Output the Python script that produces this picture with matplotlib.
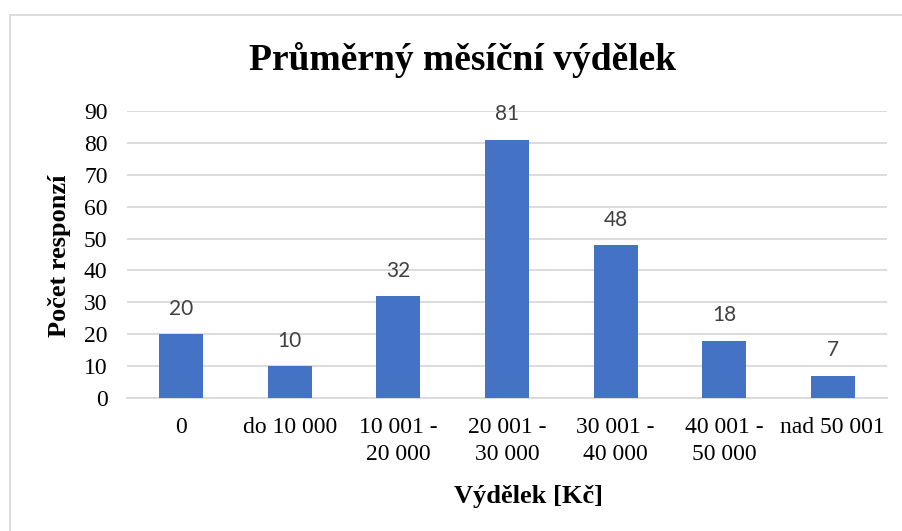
import matplotlib.pyplot as plt
from matplotlib.patches import Rectangle

# Data
categories = ['0', 'do 10 000', '10 001 -\n20 000', '20 001 -\n30 000',
              '30 001 -\n40 000', '40 001 -\n50 000', 'nad 50 001']
counts = [20, 10, 32, 81, 48, 18, 7]
yticks = [0, 10, 20, 30, 40, 50, 60, 70, 80, 90]

W, H = 902, 531
fig = plt.figure(figsize=(W / 100, H / 100), dpi=100)
ax = fig.add_axes([127 / W, 1 - 398 / H, 760 / W, (398 - 111) / H])

serif = 'Liberation Serif'
ax.bar(range(len(categories)), counts, width=0.405, color='#4472C4', zorder=3)
for i, v in enumerate(counts):
    ax.annotate(str(v), (i, v), xytext=(0, 11), textcoords='offset points',
                ha='center', va='bottom', fontsize=15, color='#404040',
                family='Lato')

ax.set_xlim(-0.5, len(categories) - 0.5)
ax.set_ylim(0, 90)
ax.set_yticks(yticks)
ax.yaxis.grid(True, color='#d9d9d9', linewidth=1.3, zorder=0)
ax.set_axisbelow(True)
for s in ['top', 'right', 'left']:
    ax.spines[s].set_visible(False)
ax.spines['bottom'].set_color('#d9d9d9')
ax.spines['bottom'].set_linewidth(1.3)
ax.tick_params(length=0)
ax.set_xticks(range(len(categories)))
ax.set_xticklabels(categories, fontsize=17, family=serif, linespacing=1.35)
ax.tick_params(axis='x', pad=14)
ax.tick_params(axis='y', pad=14)
for lb in ax.get_yticklabels():
    lb.set_fontsize(17)
    lb.set_family(serif)

fig.text(463 / W, 1 - 60 / H, 'Průměrný měsíční výdělek', ha='center',
         va='center', fontsize=27, fontweight='bold', family=serif)
fig.text(60 / W, 1 - 256 / H, 'Počet responzí', ha='center', va='center',
         rotation=90, fontsize=19, fontweight='bold', family=serif)
fig.text(528 / W, 1 - 497 / H, 'Výdělek [Kč]', ha='center', va='center',
         fontsize=19, fontweight='bold', family=serif)

# chart border
fig.patches.append(Rectangle((10 / W, -0.1), 1.1, 1.1 - 15 / H,
                             transform=fig.transFigure, fill=False,
                             edgecolor='#d9d9d9', linewidth=1.3))

plt.savefig('out.png', dpi=100)
